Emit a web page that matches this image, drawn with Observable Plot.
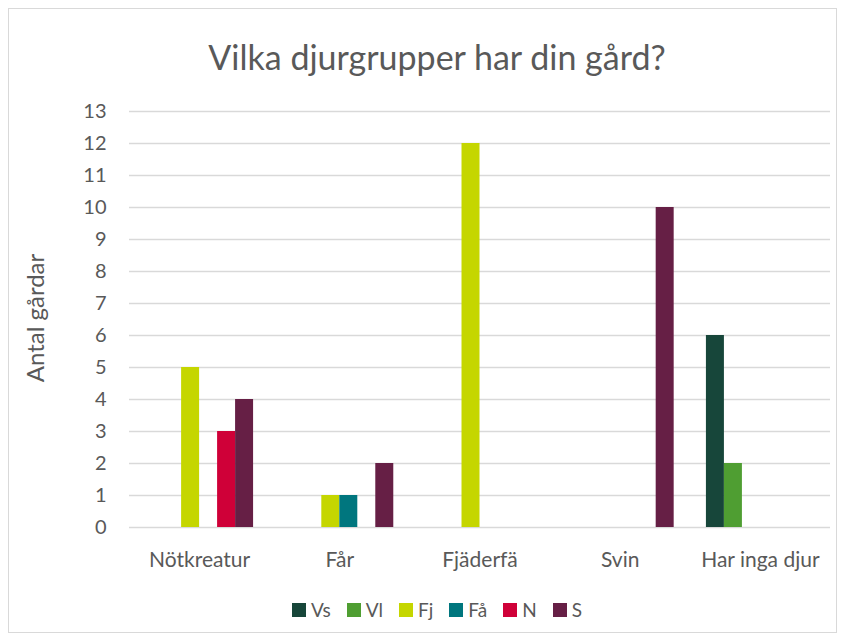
<!DOCTYPE html>
<html>
<head>
<meta charset="utf-8">
<script src="https://cdn.jsdelivr.net/npm/d3@7"></script>
<script src="https://cdn.jsdelivr.net/npm/@observablehq/plot@0.6"></script>
<style>
  body { margin: 0; background: #fff; font-family: Lato, "Open Sans", sans-serif; }
  #frame { position: absolute; left: 8px; top: 8px; width: 829px; height: 625px; border: 1px solid #d9d9d9; box-sizing: border-box; }
  #title { position: absolute; left: 0; width: 874px; top: 35px; text-align: center; font-size: 34px; color: #595959; line-height: 44px; }
  #ylabel { position: absolute; left: 34px; top: 318px; transform: translate(-50%, -50%) rotate(-90deg); font-size: 24px; color: #595959; white-space: nowrap; }
  #chart { position: absolute; left: 0; top: 90px; }
  #legend { position: absolute; left: 0; width: 874px; top: 598px; display: flex; justify-content: center; gap: 16px; font-size: 19px; color: #595959; }
  .item { display: flex; align-items: center; gap: 5px; }
  .sw { width: 14px; height: 14px; display: inline-block; }
</style>
</head>
<body>
<div id="frame"></div>
<div id="title">Vilka djurgrupper har din gård?</div>
<div id="ylabel">Antal gårdar</div>
<div id="chart"></div>
<div id="legend"></div>
<script>
const categories = ["Nötkreatur", "Får", "Fjäderfä", "Svin", "Har inga djur"];
const series = ["Vs", "Vl", "Fj", "Få", "N", "S"];
const colors = ["#17463a", "#4f9e32", "#c5d600", "#00767e", "#cf0038", "#661f45"];
const Vs = [0, 0, 0, 0, 6];
const Vl = [0, 0, 0, 0, 2];
const Fj = [5, 1, 12, 0, 0];
const Fa = [0, 1, 0, 0, 0];
const N  = [3, 0, 0, 0, 0];
const S  = [4, 2, 0, 10, 0];
const yTicks = [0, 1, 2, 3, 4, 5, 6, 7, 8, 9, 10, 11, 12, 13];

// grouped-bar layout: each category occupies one unit on a linear x scale
const groupPad = 0.115;                       // outer gap on each side of a group (fraction of a unit)
const barW = (1 - 2 * groupPad) / series.length;
const seriesValues = [Vs, Vl, Fj, Fa, N, S];
const data = [];
categories.forEach((c, i) => {
  series.forEach((s, j) => {
    const x1 = i + groupPad + j * barW;
    data.push({ category: c, series: s, value: seriesValues[j][i], x1, x2: x1 + barW });
  });
});
const catCenters = categories.map((c, i) => i + 0.5);

const chart = Plot.plot({
  width: 847,
  height: 490,
  marginTop: 21,
  marginBottom: 53,
  marginLeft: 129,
  marginRight: 17,
  style: { fontFamily: "Lato, 'Open Sans', sans-serif", fontSize: "21px", color: "#595959", background: "transparent" },
  x: { domain: [0, categories.length], axis: null },
  y: { domain: [0, 13], axis: null },
  color: { domain: series, range: colors },
  marks: [
    Plot.ruleY(yTicks, { stroke: "#d9d9d9", strokeWidth: 1.4 }),
    Plot.rectY(data, { x1: "x1", x2: "x2", y1: 0, y2: "value", fill: "series" }),
    Plot.axisY(yTicks, { tickSize: 0, tickPadding: 23, tickFormat: d => d, label: null, fill: "#595959", fontSize: 20 }),
    Plot.axisX(catCenters, { tickSize: 0, tickPadding: 25, tickFormat: (d) => categories[Math.floor(d)], label: null, fill: "#595959", fontSize: 21 })
  ]
});
document.getElementById("chart").appendChild(chart);

const legend = document.getElementById("legend");
series.forEach((s, i) => {
  const item = document.createElement("div");
  item.className = "item";
  const sw = document.createElement("span");
  sw.className = "sw";
  sw.style.background = colors[i];
  const t = document.createElement("span");
  t.textContent = s;
  item.appendChild(sw);
  item.appendChild(t);
  legend.appendChild(item);
});
</script>
</body>
</html>
